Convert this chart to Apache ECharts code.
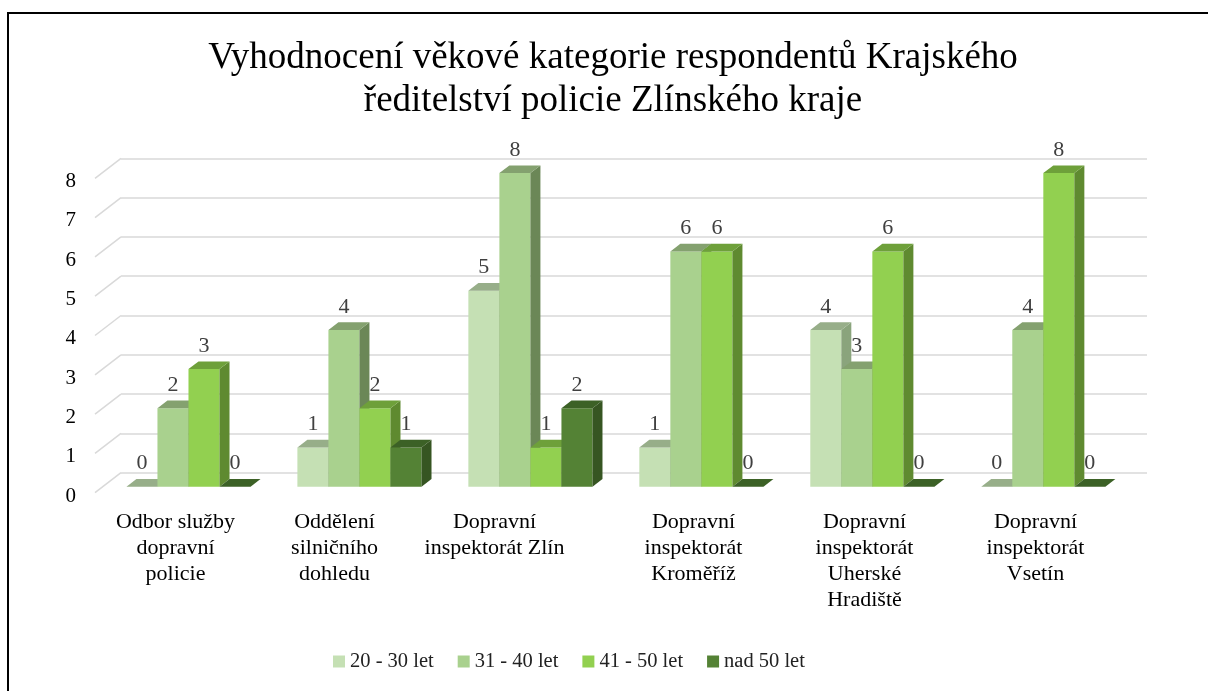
<!DOCTYPE html>
<html>
<head>
<meta charset="utf-8">
<script src="https://cdn.jsdelivr.net/npm/echarts@6.0.0/dist/echarts.min.js"></script>
<style>
  html, body { margin: 0; padding: 0; background: #fff; }
  #main { position: absolute; left: 0; top: 0; width: 1208px; height: 691px; }
  #frame { position: absolute; left: 7px; top: 12px; width: 1400px; height: 900px;
           border-left: 2px solid #000; border-top: 2px solid #000; pointer-events: none; }
</style>
</head>
<body>
<div id="main"></div>
<div id="frame"></div>
<script>
// categories (x axis)
const categories = [
  'Odbor služby\ndopravní\npolicie',
  'Oddělení\nsilničního\ndohledu',
  'Dopravní\ninspektorát Zlín',
  'Dopravní\ninspektorát\nKroměříž',
  'Dopravní\ninspektorát\nUherské\nHradiště',
  'Dopravní\ninspektorát\nVsetín'
]
const seriesNames = ['20 - 30 let', '31 - 40 let', '41 - 50 let', 'nad 50 let']
const age20to30 = [0, 1, 5, 1, 4, 0]
const age31to40 = [2, 4, 8, 6, 3, 4]
const age41to50 = [3, 2, 1, 6, 6, 8]
const ageOver50 = [0, 1, 2, 0, 0, 0]
const yTicks = [0, 1, 2, 3, 4, 5, 6, 7, 8]

const FONT = "'Liberation Serif', 'Times New Roman', serif"
// front / top / side face colours per series
const faces = [
  { front: '#C5E0B4', top: '#97AE89', side: '#8AA47C' },
  { front: '#A9D18E', top: '#84A16F', side: '#6B8757' },
  { front: '#92D050', top: '#6EA03A', side: '#5F8A30' },
  { front: '#548235', top: '#3C6126', side: '#365522' }
]
const BAR_DX = 10, BAR_DY = -7.7     // depth of a column
const WALL_DX = -26, WALL_DY = 20    // side wall depth
// excel nudges the first few category labels to the left
const labelNudge = [5, 17, 28, 0, 0, 0]

const chart = echarts.init(document.getElementById('main'))

function barRenderer(k) {
  return function (params, api) {
    const cat = api.value(0), val = api.value(1)
    const base = api.coord([cat, 0])
    const top = api.coord([cat, val])
    const band = api.size([1, 0])[0]
    const bw = band * 0.1815
    const x0 = base[0] - 2 * bw + k * bw
    const x1 = x0 + bw
    const yb = base[1], yt = top[1]
    const c = faces[k]
    const children = []
    if (val > 0) {
      children.push({ type: 'rect', shape: { x: x0, y: yt, width: bw, height: yb - yt },
        style: { fill: c.front } })
      children.push({ type: 'polygon',
        shape: { points: [[x1, yt], [x1 + BAR_DX, yt + BAR_DY], [x1 + BAR_DX, yb + BAR_DY], [x1, yb]] },
        style: { fill: c.side } })
    }
    children.push({ type: 'polygon',
      shape: { points: [[x0, yt], [x1, yt], [x1 + BAR_DX, yt + BAR_DY], [x0 + BAR_DX, yt + BAR_DY]] },
      style: { fill: c.top } })
    children.push({ type: 'text', z2: 100,
      style: { x: x0 + bw / 2, y: yt - 23, text: String(val), align: 'center', verticalAlign: 'middle',
        fill: '#404040', font: '22px ' + FONT } })
    return { type: 'group', children: children }
  }
}

function wallRenderer(params, api) {
  const p = api.coord([0, api.value(0)])
  return { type: 'line',
    shape: { x1: p[0], y1: p[1], x2: p[0] + WALL_DX, y2: p[1] + WALL_DY },
    style: { stroke: '#D9D9D9', lineWidth: 1.5 } }
}

const seriesData = [age20to30, age31to40, age41to50, ageOver50]

const option = {
  animation: false,
  backgroundColor: 'transparent',
  title: {
    text: 'Vyhodnocení věkové kategorie respondentů Krajského\nředitelství policie Zlínského kraje',
    left: 613, top: 37, textAlign: 'center', padding: 0,
    textStyle: { fontFamily: FONT, fontSize: 37, lineHeight: 43, fontWeight: 'normal', color: '#000' }
  },
  legend: {
    data: seriesNames, left: 333, top: 651, padding: 0,
    icon: 'rect', itemWidth: 12, itemHeight: 12, itemGap: 24,
    textStyle: { fontFamily: FONT, fontSize: 20.5, color: '#222' }
  },
  grid: [
    // front edge of the walls: axis labels
    { left: 95, right: 87, top: 181.6, bottom: 195 },
    // back wall
    { left: 121, right: 61, top: 158.3, bottom: 218.3 },
    // front plane of the columns
    { left: 103, right: 79.2, top: 173.1, bottom: 204.3 }
  ],
  xAxis: [
    { gridIndex: 0, type: 'category',
      data: categories.map((c, i) => ({ value: c, textStyle: { padding: [0, 2 * labelNudge[i], 0, 0] } })),
      axisLine: { show: false }, axisTick: { show: false },
      axisLabel: { interval: 0, margin: 13, fontFamily: FONT, fontSize: 22, lineHeight: 26, color: '#000' } },
    { gridIndex: 1, type: 'value', min: 0, max: 1, show: false },
    { gridIndex: 2, type: 'category', data: categories, show: false }
  ],
  yAxis: [
    { gridIndex: 0, type: 'value', min: 0, max: 8, interval: 1,
      axisLine: { show: false }, axisTick: { show: false }, splitLine: { show: false },
      axisLabel: { margin: 19, fontFamily: FONT, fontSize: 21, color: '#000' } },
    { gridIndex: 1, type: 'value', min: 0, max: 8, interval: 1,
      axisLine: { show: false }, axisTick: { show: false }, axisLabel: { show: false },
      splitLine: { show: true, lineStyle: { color: '#D9D9D9', width: 1.5 } } },
    { gridIndex: 2, type: 'value', min: 0, max: 8, interval: 1, show: false }
  ],
  series: [
    { type: 'custom', name: 'wall', xAxisIndex: 1, yAxisIndex: 1, silent: true,
      renderItem: wallRenderer, data: yTicks.map(v => [v]), encode: { y: 0 } }
  ].concat(seriesNames.map((name, k) => ({
    type: 'custom', name: name, xAxisIndex: 2, yAxisIndex: 2,
    itemStyle: { color: faces[k].front },
    renderItem: barRenderer(k),
    encode: { x: 0, y: 1 },
    data: seriesData[k].map((v, i) => [i, v])
  })))
}

chart.setOption(option)
</script>
</body>
</html>
